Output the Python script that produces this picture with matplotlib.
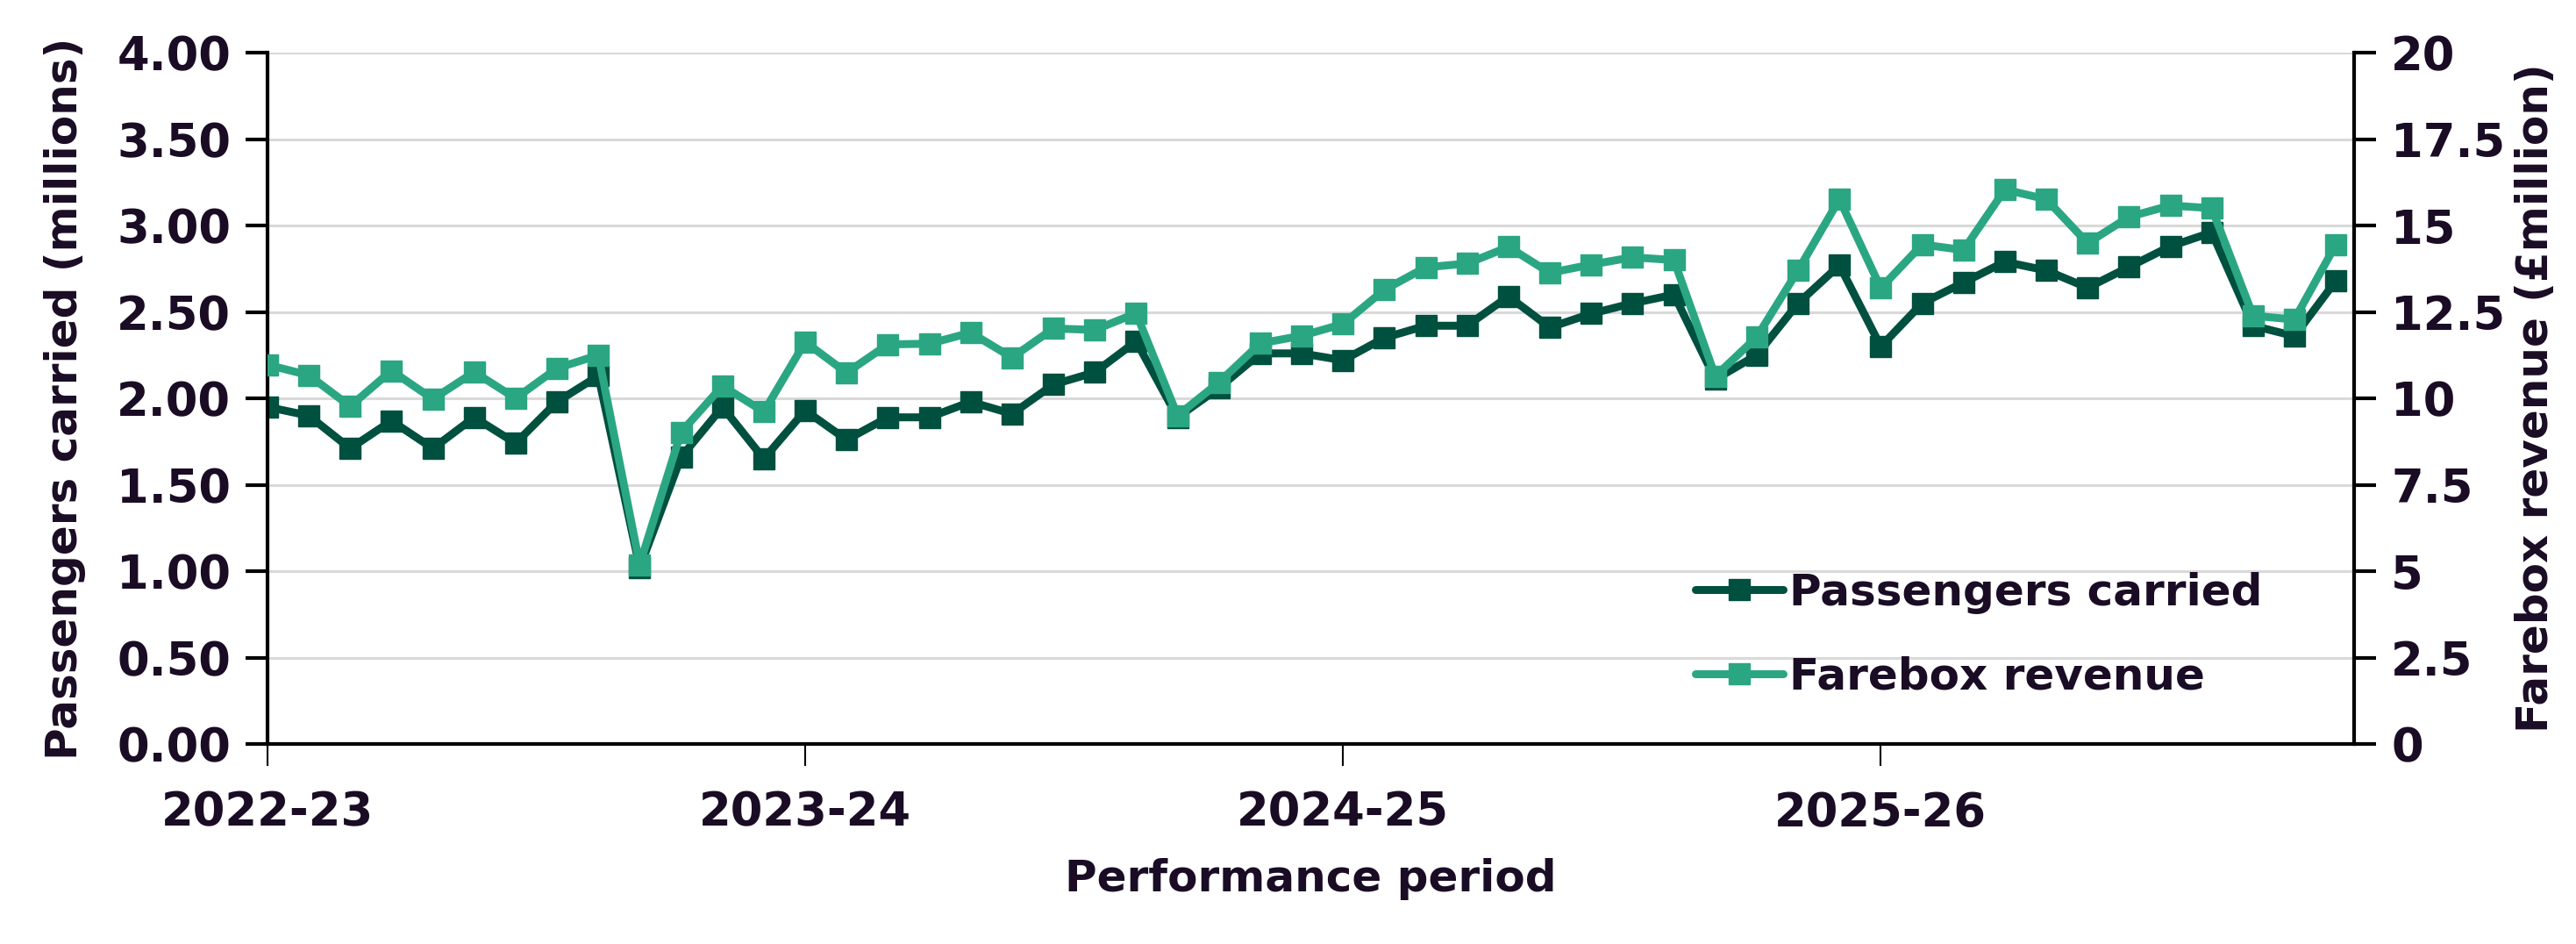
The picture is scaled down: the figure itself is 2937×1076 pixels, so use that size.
import numpy as np
import matplotlib.pyplot as plt
from matplotlib.ticker import FuncFormatter, MultipleLocator

# performance periods, 13 per year, 2022-23 P1 .. 2025-26 P12
year_labels = ['2022-23', '2023-24', '2024-25', '2025-26']
periods_per_year = 13

passengers = [1.95, 1.90, 1.71, 1.87, 1.71, 1.89, 1.74, 1.98, 2.13, 1.02,
              1.66, 1.95, 1.65, 1.93, 1.76, 1.89, 1.89, 1.98, 1.91, 2.08,
              2.15, 2.33, 1.89, 2.06, 2.26, 2.26, 2.22, 2.35, 2.42, 2.42,
              2.59, 2.41, 2.49, 2.55, 2.60, 2.11, 2.25, 2.55, 2.77, 2.30,
              2.55, 2.67, 2.79, 2.74, 2.64, 2.76, 2.88, 2.96, 2.42, 2.36,
              2.68]

farebox = [10.97, 10.67, 9.77, 10.80, 9.98, 10.76, 10.00, 10.87, 11.25, 5.19,
           9.02, 10.36, 9.61, 11.63, 10.74, 11.56, 11.58, 11.90, 11.18, 12.02,
           11.98, 12.46, 9.50, 10.46, 11.59, 11.81, 12.15, 13.14, 13.79, 13.90,
           14.38, 13.63, 13.87, 14.08, 14.00, 10.64, 11.77, 13.70, 15.76, 13.19,
           14.45, 14.29, 16.04, 15.76, 14.49, 15.25, 15.58, 15.50, 12.39, 12.28,
           14.45]

c_pass = '#00503f'
c_fare = '#2ba683'
c_text = '#1a0c24'

plt.rcParams['font.family'] = ['DejaVu Sans']
plt.rcParams['font.weight'] = 'bold'
plt.rcParams['axes.labelweight'] = 'bold'

fig = plt.figure(figsize=(29.37, 10.76), dpi=100)
ax = fig.add_axes([0.1038, 0.2119, 0.8102, 0.7323])
ax2 = ax.twinx()

x = np.arange(len(passengers))
l1, = ax.plot(x, passengers, color=c_pass, lw=6.5, marker='s', ms=17,
              label='Passengers carried', solid_capstyle='round')
l2, = ax2.plot(x, farebox, color=c_fare, lw=6.5, marker='s', ms=17,
               label='Farebox revenue', solid_capstyle='round')

ax.set_xlim(0, 50.45)
ax.set_ylim(0, 4)
ax2.set_ylim(0, 20)
ax.yaxis.set_major_locator(MultipleLocator(0.5))
ax2.yaxis.set_major_locator(MultipleLocator(2.5))
ax.yaxis.set_major_formatter(FuncFormatter(lambda v, p: '%.2f' % v))
ax2.yaxis.set_major_formatter(FuncFormatter(lambda v, p: '%g' % v))

ax.set_xticks([i * periods_per_year for i in range(len(year_labels))])
ax.set_xticklabels(year_labels)

ax.grid(axis='y', color='#d9d9d9', lw=2.2)
ax.set_axisbelow(True)

for a in (ax, ax2):
    a.spines['top'].set_visible(False)
    for s in ('left', 'right', 'bottom'):
        a.spines[s].set_linewidth(3)
        a.spines[s].set_color('black')
ax.spines['right'].set_visible(False)
ax2.spines['left'].set_visible(False)
ax2.spines['bottom'].set_visible(False)

ax.tick_params(axis='y', length=18, width=3, labelsize=38, labelcolor=c_text, pad=12)
ax2.tick_params(axis='y', length=18, width=3, labelsize=38, labelcolor=c_text, pad=12)
ax.tick_params(axis='x', length=18, width=1.5, labelsize=38, labelcolor=c_text, pad=20)

ax.set_ylabel('Passengers carried (millions)', fontsize=36, color=c_text, labelpad=25)
ax2.set_ylabel('Farebox revenue (£million)', fontsize=36, color=c_text, labelpad=8)
ax.set_xlabel('Performance period', fontsize=36, color=c_text, labelpad=18)

ax2.legend(handles=[l1, l2], loc='lower right', bbox_to_anchor=(0.975, 0.01),
           frameon=False, fontsize=36, labelcolor=c_text, handlelength=2.0,
           handletextpad=0.15, labelspacing=0.95)

fig.savefig('out.png', dpi=100)
